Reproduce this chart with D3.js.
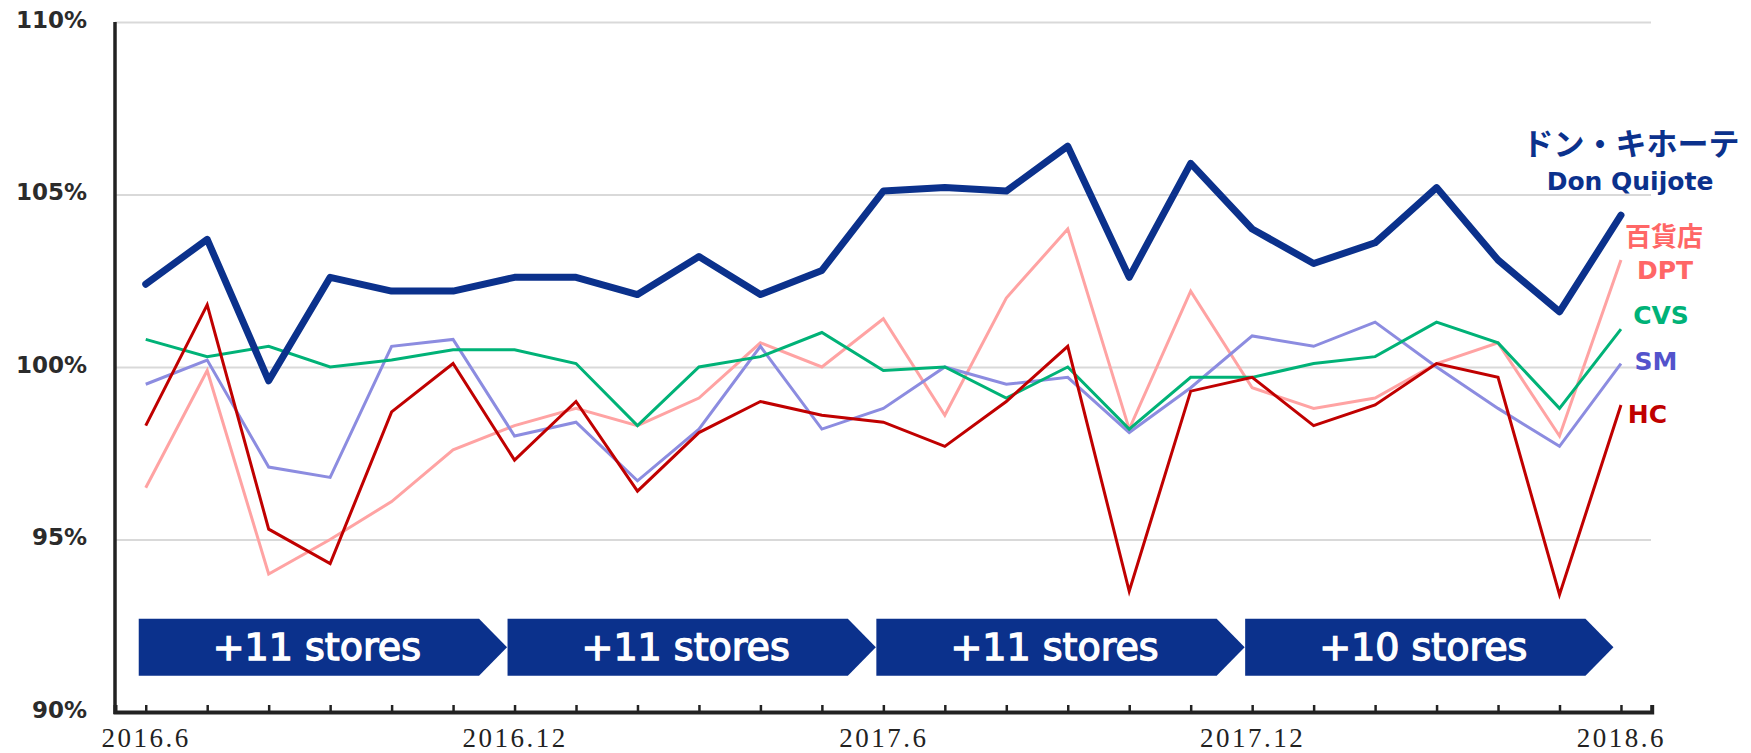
<!DOCTYPE html>
<html>
<head>
<meta charset="utf-8">
<script src="https://cdn.jsdelivr.net/npm/d3@7"></script>
<style>
  html, body { margin: 0; padding: 0; background: #fff; }
  svg { display: block; }
</style>
</head>
<body>
<script>
// ---------- data ----------
const months = ["2016.6","2016.7","2016.8","2016.9","2016.10","2016.11","2016.12",
  "2017.1","2017.2","2017.3","2017.4","2017.5","2017.6","2017.7","2017.8","2017.9",
  "2017.10","2017.11","2017.12","2018.1","2018.2","2018.3","2018.4","2018.5","2018.6"];
const labeledMonths = ["2016.6","2016.12","2017.6","2017.12","2018.6"];
const yTicks = [90, 95, 100, 105, 110];

const donQuijote = [102.4,103.7,99.6,102.6,102.2,102.2,102.6,102.6,102.1,103.2,102.1,102.8,105.1,105.2,105.1,106.4,102.6,105.9,104.0,103.0,103.6,105.2,103.1,101.6,104.4];
const dpt = [96.5,99.9,94.0,95.0,96.1,97.6,98.3,98.8,98.3,99.1,100.7,100.0,101.4,98.6,102.0,104.0,98.2,102.2,99.4,98.8,99.1,100.1,100.7,98.0,103.1];
const cvs = [100.8,100.3,100.6,100.0,100.2,100.5,100.5,100.1,98.3,100.0,100.3,101.0,99.9,100.0,99.1,100.0,98.2,99.7,99.7,100.1,100.3,101.3,100.7,98.8,101.1];
const sm  = [99.5,100.2,97.1,96.8,100.6,100.8,98.0,98.4,96.7,98.2,100.6,98.2,98.8,100.0,99.5,99.7,98.1,99.4,100.9,100.6,101.3,100.0,98.8,97.7,100.1];
const hc  = [98.3,101.8,95.3,94.3,98.7,100.1,97.3,99.0,96.4,98.1,99.0,98.6,98.4,97.7,99.0,100.6,93.5,99.3,99.7,98.3,98.9,100.1,99.7,93.4,98.9];

const bannerLabels = ["+11 stores","+11 stores","+11 stores","+10 stores"];
const bannerStarts = [0, 6, 12, 18];   // month index where each period begins
const bannerSpan = 6;                  // months per period

// ---------- layout ----------
const W = 1751, H = 753;
const svg = d3.select("body").append("svg").attr("width", W).attr("height", H);
svg.append("rect").attr("width", W).attr("height", H).attr("fill", "#fff");

const x = d3.scaleLinear().domain([-0.5, 24.5]).range([115, 1651.7]);
const y = d3.scaleLinear().domain([90, 110]).range([712, 22]);

// grid lines
const grid = svg.append("g").attr("transform", "translate(115,0)")
  .call(d3.axisLeft(y).tickValues(yTicks.filter(v => v > 90))
    .tickSize(-(1651 - 115)).tickFormat(""));
grid.select(".domain").remove();
grid.selectAll("line").attr("stroke", "#d9d9d9").attr("stroke-width", 2);

// y labels
const yAx = svg.append("g").attr("transform", "translate(115,0)")
  .call(d3.axisLeft(y).tickValues(yTicks).tickSize(0).tickPadding(28)
    .tickFormat(d => d + "%"));
yAx.select(".domain").remove();
yAx.selectAll("text")
  .attr("y", -2)
  .attr("font-family", "'DejaVu Sans', Verdana, sans-serif")
  .attr("font-weight", "bold")
  .attr("font-size", 23)
  .attr("fill", "#2b2b2b");

// banners
const bTop = y(92.7), bBot = y(91.05), bMid = (bTop + bBot) / 2;
const tipLen = 28;
bannerStarts.forEach((s, i) => {
  const x0 = x(s) - 7, xt = x(s + bannerSpan) - 7.5;
  const pts = [[x0, bTop], [xt - tipLen, bTop], [xt, bMid], [xt - tipLen, bBot], [x0, bBot]];
  svg.append("path")
    .attr("d", d3.line()(pts) + "Z")
    .attr("fill", "#0b318c");
  svg.append("text")
    .attr("x", (x0 + xt) / 2 - 6)
    .attr("y", bMid)
    .attr("dominant-baseline", "central")
    .attr("text-anchor", "middle")
    .attr("font-family", "'DejaVu Sans', Verdana, sans-serif")
    .attr("font-size", 38)
    .attr("fill", "#fff")
    .attr("stroke", "#fff")
    .attr("stroke-width", 1.4)
    .text(bannerLabels[i]);
});

// series lines
const line = d3.line().x((d, i) => x(i)).y(d => y(d));
const series = [
  { data: dpt, color: "#ffa3a3", w: 3 },
  { data: sm,  color: "#8c8ce0", w: 3 },
  { data: cvs, color: "#00b277", w: 3 },
  { data: hc,  color: "#c00000", w: 3 },
  { data: donQuijote, color: "#0b318c", w: 7 }
];
series.forEach(s => {
  svg.append("path")
    .attr("d", line(s.data))
    .attr("fill", "none")
    .attr("stroke", s.color)
    .attr("stroke-width", s.w)
    .attr("stroke-linejoin", s.w > 5 ? "round" : "miter")
    .attr("stroke-linecap", s.w > 5 ? "round" : "butt");
});

// left axis line
svg.append("line")
  .attr("x1", 115).attr("x2", 115).attr("y1", 22).attr("y2", 714)
  .attr("stroke", "#222").attr("stroke-width", 3.5);

// bottom axis
const xAx = svg.append("g").attr("transform", `translate(0,${y(90)})`)
  .call(d3.axisBottom(x).tickValues(d3.range(months.length))
    .tickSizeInner(-7).tickSizeOuter(-7).tickPadding(16)
    .tickFormat(i => labeledMonths.includes(months[i]) ? months[i] : ""));
xAx.select(".domain").attr("stroke", "#222").attr("stroke-width", 4);
xAx.selectAll(".tick line").attr("stroke", "#222").attr("stroke-width", 2.5);
xAx.selectAll("text")
  .attr("font-family", "'Liberation Serif', 'Times New Roman', serif")
  .attr("font-size", 27)
  .attr("letter-spacing", 2.5)
  .attr("fill", "#222");

// series labels
const jp = "'Noto Sans CJK JP', sans-serif";
const lat = "'DejaVu Sans', Verdana, sans-serif";
const labels = [
  { t: "ドン・キホーテ", cx: 1631, by: 155, f: jp, s: 31, c: "#0b318c" },
  { t: "Don Quijote", cx: 1630, by: 190, f: lat, s: 25, c: "#0b318c" },
  { t: "百貨店", cx: 1664, by: 246, f: jp, s: 26, c: "#ff6666" },
  { t: "DPT", cx: 1665, by: 279, f: lat, s: 25, c: "#ff6666" },
  { t: "CVS", cx: 1661, by: 324, f: lat, s: 25, c: "#00b277" },
  { t: "SM",  cx: 1656, by: 370, f: lat, s: 25, c: "#5353cc" },
  { t: "HC",  cx: 1647.5, by: 423, f: lat, s: 25, c: "#c00000" }
];
labels.forEach(l => {
  svg.append("text")
    .attr("x", l.cx).attr("y", l.by)
    .attr("text-anchor", "middle")
    .attr("font-family", l.f)
    .attr("font-weight", "bold")
    .attr("font-size", l.s)
    .attr("fill", l.c)
    .text(l.t);
});
</script>
</body>
</html>
